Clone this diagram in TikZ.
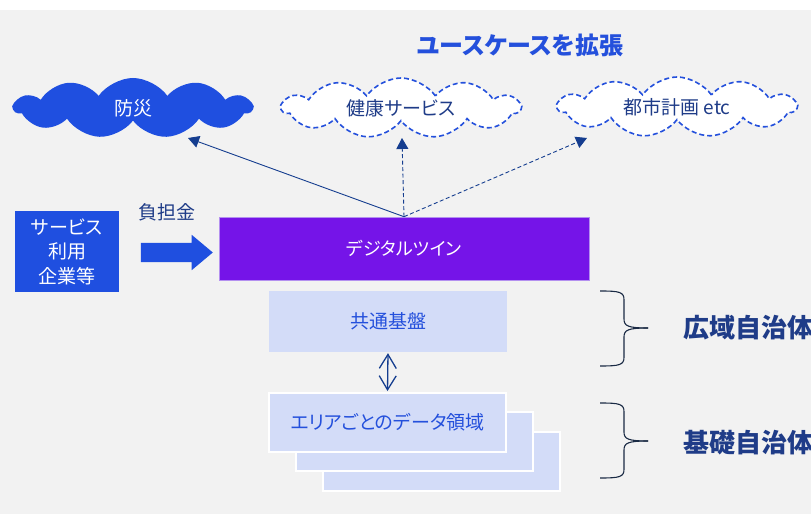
\documentclass[tikz,border=0pt]{standalone}
\usepackage{fontspec}
\setmainfont{Noto Sans CJK JP}[RawFeature={+palt}]
\usetikzlibrary{shapes.symbols,shapes.arrows,arrows.meta}
\definecolor{bgray}{HTML}{F2F2F2}
\definecolor{mblue}{HTML}{1F4FE0}
\definecolor{tblue}{HTML}{2450DC}
\definecolor{navy}{HTML}{1F3C88}
\definecolor{arrnavy}{HTML}{153D8F}
\definecolor{purp}{HTML}{7514E8}
\definecolor{purpedge}{HTML}{B490F0}
\definecolor{lightb}{HTML}{D3DCF8}
\definecolor{bracec}{HTML}{1A2A44}
\tikzset{
  cloudbase/.style={cloud, cloud puffs=11, cloud puff arc=110, cloud ignores aspect,
    minimum width=238pt, minimum height=60pt, inner sep=0pt, font=\fontsize{19}{22}\selectfont},
  cloudfill/.style={cloudbase, fill=mblue, text=white},
  clouddash/.style={cloudbase, fill=white, draw=tblue, line width=1.6pt, dash pattern=on 5pt off 3pt, text=navy},
  usearrow/.style={draw=arrnavy, line width=0.9pt, -{Triangle[length=11pt,width=12pt]}, arrnavy},
  layerbox/.style={rectangle, fill=lightb, inner sep=0pt, text=tblue, font=\fontsize{19}{22}\selectfont},
  areabox/.style={layerbox, draw=white, line width=2pt, minimum width=237pt, minimum height=59pt},
  bracepath/.style={draw=bracec, line width=1.1pt},
  sidelabel/.style={anchor=west, text=navy, font=\fontsize{26}{30}\selectfont\bfseries, inner sep=0pt}
}
\begin{document}
\begin{tikzpicture}[x=1pt,y=-1pt]
\useasboundingbox (0,0) rectangle (811,518);
\fill[white] (0,0) rectangle (811,518);
\fill[bgray] (0,10) rectangle (811,514);
\begin{scope}
\clip (0,0) rectangle (811,518);

% title
\node[text=tblue, font=\fontsize{24}{28}\selectfont\bfseries] (title) at (520,45) {ユースケースを拡張};

% clouds
\node[cloudfill] (bousai) at (133,108) {防災};
\node[clouddash] (kenko) at (401,108) {健康サービス};
\node[clouddash] (toshi) at (677,107) {都市計画 etc};

% service users box
\node[rectangle, fill=mblue, text=white, minimum width=104pt, minimum height=81pt, inner sep=0pt,
      align=center, font=\fontsize{19}{24.5}\selectfont] (users) at (67,251.5) {サービス\\利用\\企業等};
\node[text=navy, font=\fontsize{19}{22}\selectfont, inner sep=0pt] (futan) at (166.5,212) {負担金};
\node[single arrow, fill=mblue, minimum height=72pt, inner xsep=0pt, inner ysep=9.5pt,
      single arrow head extend=8pt, single arrow tip angle=80, single arrow head indent=0pt] (bigarrow) at (171,252.5) {};

% digital twin
\node[rectangle, fill=purp, draw=purpedge, line width=0.6pt, minimum width=370pt, minimum height=63pt,
      inner sep=0pt, text=white, font=\fontsize{18}{22}\selectfont] (dt) at (404,248.5) {デジタルツイン};

% common base
\node[layerbox, minimum width=238pt, minimum height=61pt] (kiban) at (388,321.5) {共通基盤};

% area data boxes
\node[areabox] (area3) at (441.5,461.5) {};
\node[areabox] (area2) at (414.5,441.5) {};
\node[areabox] (area1) at (387.5,422.5) {エリアごとのデータ領域};

% connectors
\coordinate (t1) at (188,138);
\coordinate (t2) at (402,138);
\coordinate (t3) at (587,138);
\draw[usearrow] (dt.north) -- (t1);
\draw[usearrow, dash pattern=on 4pt off 2.5pt] (dt.north) -- (t2);
\draw[usearrow, dash pattern=on 4pt off 2.5pt] (dt.north) -- (t3);
\draw[arrnavy, line width=1.3pt, {Straight Barb[length=14pt,width=17pt]}-{Straight Barb[length=14pt,width=17pt]},
      shorten <=1pt, shorten >=1pt] (kiban.south) -- (area1.north);

% braces
\draw[bracepath] (600,291) .. controls (620,291) and (624,292) .. (624,300) -- (624,319)
   .. controls (624,326) and (628,328) .. (648,328);
\draw[bracepath] (600,366) .. controls (620,366) and (624,365) .. (624,357) -- (624,337)
   .. controls (624,330) and (628,328) .. (648,328);
\draw[bracepath] (600,403) .. controls (620,403) and (624,404) .. (624,412) -- (624,432)
   .. controls (624,439) and (628,441) .. (648,441);
\draw[bracepath] (600,478) .. controls (620,478) and (624,477) .. (624,469) -- (624,450)
   .. controls (624,443) and (628,441) .. (648,441);

\node[sidelabel] (koiki) at (683,328) {広域自治体};
\node[sidelabel] (kiso) at (683,443) {基礎自治体};
\end{scope}
\end{tikzpicture}
\end{document}
